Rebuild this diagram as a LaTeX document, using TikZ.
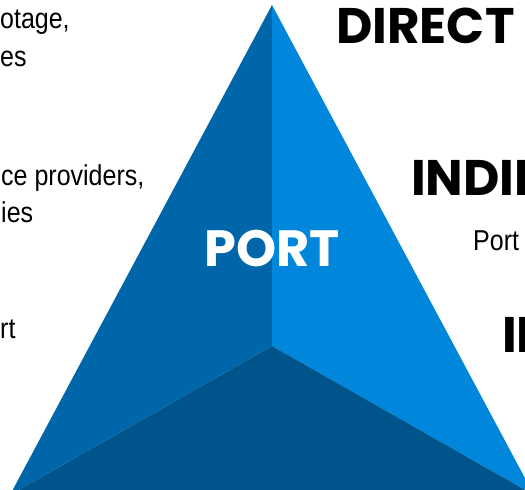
\documentclass[tikz,border=0pt]{standalone}
\usepackage{fontspec}
\setmainfont{Liberation Sans}
\newfontfamily\boldgeo{Poppins}[UprightFont=* Bold]
\definecolor{faceL}{RGB}{0,102,170}
\definecolor{faceR}{RGB}{0,134,218}
\definecolor{faceB}{RGB}{0,84,140}
\newcommand{\talltxt}[1]{\scalebox{1}[1.15]{#1}}
\tikzset{
  body/.style={font=\fontsize{25}{25}\selectfont, text=black, inner sep=0pt, anchor=base west},
  head/.style={font=\boldgeo\fontsize{50}{50}\selectfont, text=black, inner sep=0pt, anchor=base west},
}
\begin{document}
\begin{tikzpicture}[x=1pt,y=-1pt]
\useasboundingbox (0,0) rectangle (525,490);
\clip (0,0) rectangle (525,490);
\coordinate (A) at (272,5);
\coordinate (BL) at (10,495);
\coordinate (BR) at (534,495);
\coordinate (C) at (272,346);
\fill[faceL] (A) -- (BL) -- (C) -- cycle;
\fill[faceR] (A) -- (C) -- (BR) -- cycle;
\fill[faceB] (BL) -- (C) -- (BR) -- cycle;
\node[font=\boldgeo\fontsize{51}{51}\selectfont, text=white, inner sep=0pt, anchor=base] (port) at (272,266) {PORT};
\node[body] (l1) at (0,28) {\talltxt{otage,}};
\node[body] (l2) at (0,66) {\talltxt{es}};
\node[body] (l3) at (1,185) {\talltxt{ce providers,}};
\node[body] (l4) at (1,222) {\talltxt{ies}};
\node[body] (l5) at (0,338) {\talltxt{rt}};
\node[head] (h1) at (336,43) {DIRECT};
\node[head] (h2) at (411,195) {INDIR};
\node[body] (p1) at (473,250) {\talltxt{Port}};
\node[head] (h3) at (502,352) {IN};
\end{tikzpicture}
\end{document}
